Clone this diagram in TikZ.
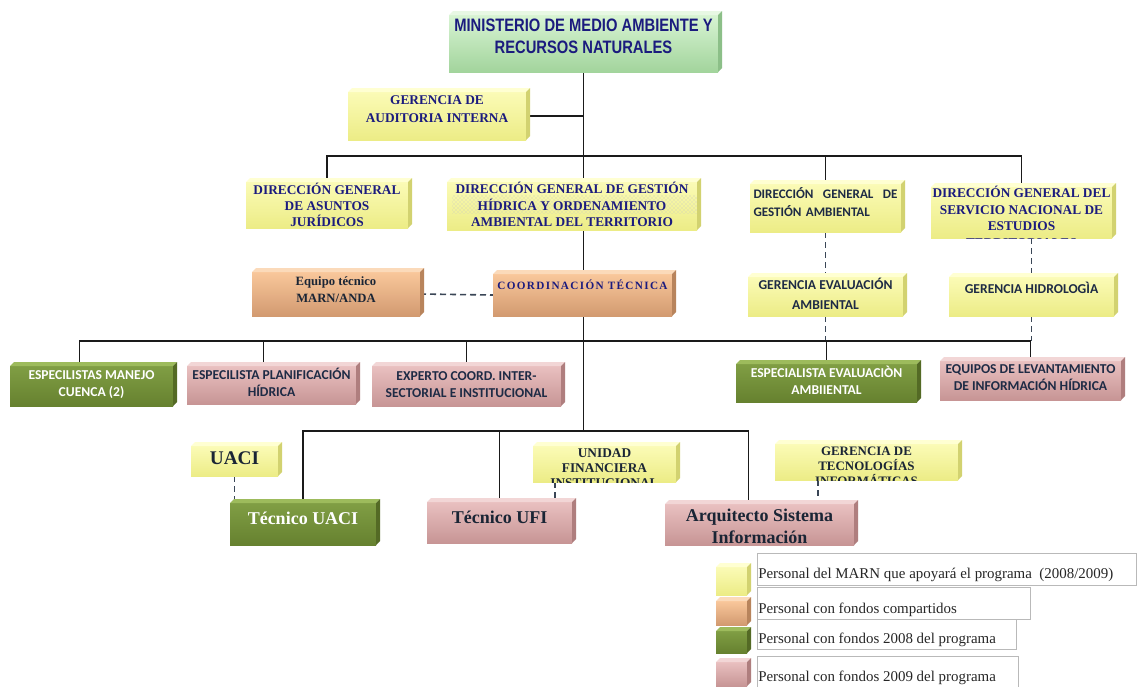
\documentclass[tikz,border=0pt]{standalone}
\usepackage{fontspec}
\setmainfont{Liberation Serif}
\newfontfamily\ministryfont[FakeStretch=0.82]{Liberation Sans}
\newfontfamily\calib{Carlito}
\newfontfamily\spacedserif[LetterSpace=12]{Liberation Serif}
\usetikzlibrary{patterns}
\pgfdeclarelayer{bg}\pgfdeclarelayer{fg}
\pgfsetlayers{bg,main,fg}
\definecolor{navy}{HTML}{1B1B7E}
\definecolor{lbl}{HTML}{1E2B45}
\definecolor{dark}{HTML}{1A2535}
\definecolor{linecol}{HTML}{1A1A1A}
\definecolor{dashcol}{HTML}{3A4656}
\definecolor{Gtop}{HTML}{D8F4D3}\definecolor{Gbot}{HTML}{A2D49C}\definecolor{Gside}{HTML}{8CBF88}\definecolor{Gface}{HTML}{E8F8E4}
\definecolor{Ytop}{HTML}{FBFBB6}\definecolor{Ybot}{HTML}{ECEC86}\definecolor{Yside}{HTML}{D2D270}\definecolor{Yface}{HTML}{FFFFD2}
\definecolor{Otop}{HTML}{F9C79B}\definecolor{Obot}{HTML}{D29A70}\definecolor{Oside}{HTML}{B8845C}\definecolor{Oface}{HTML}{FBDABA}
\definecolor{Dtop}{HTML}{809E44}\definecolor{Dbot}{HTML}{66812F}\definecolor{Dside}{HTML}{546A25}\definecolor{Dface}{HTML}{9DBB5C}
\definecolor{Ptop}{HTML}{E9C0C0}\definecolor{Pbot}{HTML}{C79595}\definecolor{Pside}{HTML}{AF7E7E}\definecolor{Pface}{HTML}{F2D6D6}
\tikzset{
  face/.style={rectangle, inner sep=0pt, outer sep=0pt, draw=none},
  conn/.style={line width=1.3pt, draw=linecol},
  dsh/.style={line width=1.2pt, draw=dashcol, dash pattern=on 4.5pt off 3pt},
  ttl/.style={font=\ministryfont\bfseries\fontsize{13.5}{16.5}\selectfont, text=navy, align=center, inner sep=0pt},
  serifcap/.style={font=\bfseries\fontsize{10}{12.2}\selectfont, text=navy, align=center, inner sep=0pt},
  sanscap/.style={font=\calib\bfseries\fontsize{10.2}{12.9}\selectfont, text=lbl, align=center, inner sep=0pt},
  sanswhite/.style={sanscap, text=white},
  big/.style={font=\bfseries\fontsize{13.5}{16.5}\selectfont, text=dark, align=center, inner sep=0pt},
  legbox/.style={rectangle, draw=gray!55, line width=0.6pt, inner sep=0pt, outer sep=0pt},
  legtext/.style={font=\fontsize{11.2}{13}\selectfont, text=black!85, inner sep=0pt},
}
% name, x0, y0, x1, y1, colour, text dy (px), text style, text
\newcommand\bx[9]{%
  \pgfmathsetmacro\bxcx{(#2+#4-4)/2}%
  \pgfmathsetmacro\bxcy{(#3+4+#5)/2}%
  \pgfmathsetmacro\bxw{(#4-#2-4)*0.75}%
  \pgfmathsetmacro\bxh{(#5-#3-4)*0.75}%
  \node[face, top color=#6top, bottom color=#6bot, minimum width=\bxw pt, minimum height=\bxh pt] (#1) at (\bxcx,\bxcy) {};
  \fill[#6face] (#1.north west) -- ([shift={(4,-4)}]#1.north west) -- ([shift={(4,-4)}]#1.north east) -- (#1.north east) -- cycle;
  \fill[#6side] (#1.north east) -- ([shift={(4,-4)}]#1.north east) -- ([shift={(4,-4)}]#1.south east) -- (#1.south east) -- cycle;
  \begin{pgfonlayer}{fg}
  \begin{scope}
    \clip ([shift={(0,-4)}]#1.north west) rectangle (#1.south east);
    \node[#8] (#1t) at ([yshift={-0.75pt*(#7)}]#1.center) {#9};
  \end{scope}
  \end{pgfonlayer}
}
% name, x0, y0, x1, y1, baseline y, text
\newcommand\lb[7]{%
  \pgfmathsetmacro\bxcx{(#2+#4)/2}%
  \pgfmathsetmacro\bxcy{(#3+#5)/2}%
  \pgfmathsetmacro\bxw{(#4-#2)*0.75}%
  \pgfmathsetmacro\bxh{(#5-#3)*0.75}%
  \node[legbox, minimum width=\bxw pt, minimum height=\bxh pt] (#1) at (\bxcx,\bxcy) {};
  \node[legtext, anchor=base west] (#1t) at ({#2+1},#6) {#7};
}
\begin{document}
\begin{tikzpicture}[x=0.75pt, y=-0.75pt]
\useasboundingbox (0,0) rectangle (1138,686);
\begin{pgfonlayer}{bg}
  \fill[white] (0,0) rectangle (1138,686);
\end{pgfonlayer}

% ---- boxes ----
\bx{min}{449}{11}{722}{72}{G}{-7.5}{ttl}{MINISTERIO DE MEDIO AMBIENTE Y\\RECURSOS NATURALES}
\bx{aud}{348}{88}{530}{140}{Y}{-7}{serifcap, font=\bfseries\fontsize{10}{13.5}\selectfont}{GERENCIA DE\\AUDITORIA INTERNA}
\bx{dga}{246}{178}{412}{228}{Y}{0}{serifcap}{DIRECCIÓN GENERAL\\DE ASUNTOS\\JURÍDICOS}
\bx{dgh}{447}{178}{701}{230}{Y}{-1.5}{serifcap}{DIRECCIÓN GENERAL DE GESTIÓN\\HÍDRICA Y ORDENAMIENTO\\AMBIENTAL DEL TERRITORIO}
\fill[pattern=crosshatch dots, pattern color=gray!45] (452,195) rectangle (697,213);
\bx{dgg}{750}{180}{905}{232}{Y}{-6}{sanscap, font=\calib\bfseries\fontsize{9.8}{13.5}\selectfont, text width=108pt, align=left}{DIRECCIÓN\hfill GENERAL\hfill DE\\GESTIÓN AMBIENTAL}
\bx{dgs}{931}{183}{1116}{238}{Y}{4.5}{serifcap, font=\bfseries\fontsize{10}{12.4}\selectfont}{DIRECCIÓN GENERAL DEL\\SERVICIO NACIONAL DE\\ESTUDIOS\\TERRITORIALES}
\bx{eq}{252}{268}{424}{316}{O}{-4.5}{serifcap, text=dark, font=\bfseries\fontsize{9.5}{13}\selectfont}{Equipo técnico\\MARN/ANDA}
\bx{coord}{493}{270}{676}{316}{O}{-10}{serifcap, font=\spacedserif\bfseries\fontsize{8.4}{10}\selectfont}{COORDINACIÓN TÉCNICA}
\bx{gea}{748}{273}{907}{316}{Y}{-2.5}{sanscap, font=\calib\bfseries\fontsize{10.2}{15}\selectfont}{GERENCIA EVALUACIÓN\\AMBIENTAL}
\bx{gh}{949}{273}{1118}{316}{Y}{-8.5}{sanscap}{GERENCIA HIDROLOGÌA}
\bx{emc}{10}{362}{177}{406}{D}{-1.5}{sanswhite}{ESPECILISTAS MANEJO\\CUENCA (2)}
\bx{epl}{187}{362}{360}{404}{P}{-2.5}{sanscap}{ESPECILISTA PLANIFICACIÓN\\HÍDRICA}
\bx{exp}{372}{362}{565}{406}{P}{-1.5}{sanscap}{EXPERTO COORD. INTER-\\SECTORIAL E INSTITUCIONAL}
\bx{eea}{736}{360}{921}{402}{D}{-2.5}{sanswhite}{ESPECIALISTA EVALUACIÒN\\AMBIIENTAL}
\bx{eqv}{940}{357}{1125}{400}{P}{-3}{sanscap}{EQUIPOS DE LEVANTAMIENTO\\DE INFORMACIÓN HÍDRICA}
\bx{uaci}{191}{442}{282}{476}{Y}{-3}{big, font=\bfseries\fontsize{14.5}{16}\selectfont}{UACI}
\bx{ufin}{533}{442}{680}{482}{Y}{4}{serifcap, text=dark, font=\bfseries\fontsize{10}{11.25}\selectfont}{UNIDAD\\FINANCIERA\\INSTITUCIONAL}
\bx{gti}{775}{440}{962}{480}{Y}{4}{serifcap, text=dark, font=\bfseries\fontsize{9.7}{11.25}\selectfont}{GERENCIA DE\\TECNOLOGÍAS\\INFORMÁTICAS}
\bx{tuaci}{230}{499}{380}{545}{D}{-6}{big, text=white}{Técnico UACI}
\bx{tufi}{427}{498}{576}{543}{P}{-5.5}{big}{Técnico UFI}
\bx{arq}{665}{500}{858}{545}{P}{1.5}{big}{Arquitecto Sistema\\Información}

% ---- legend ----
\bx{sw1}{716}{563}{751}{595}{Y}{0}{}{}
\bx{sw2}{716}{597}{751}{625}{O}{0}{}{}
\bx{sw3}{716}{627}{751}{653}{D}{0}{}{}
\bx{sw4}{716}{658}{751}{686}{P}{0}{}{}
\lb{lg1}{757}{553}{1136}{585}{578}{Personal del MARN que apoyará el programa\ \ (2008/2009)}
\lb{lg2}{757}{587}{1030}{619}{613}{Personal con fondos compartidos}
\lb{lg3}{757}{619}{1016}{649}{643}{Personal con fondos 2008 del programa}
\lb{lg4}{757}{656}{1018}{690}{681}{Personal con fondos 2009 del programa}

% ---- connectors ----
\coordinate (bus1) at (0,156);
\coordinate (bus2) at (0,341);
\coordinate (bus3) at (0,431);
\begin{pgfonlayer}{bg}
  \draw[conn] (min.south) -- (min.south |- dgh.north);
  \draw[conn] (aud.east) -- (aud.east -| min.south);
  \draw[conn] (dga.north) -- (dga.north |- bus1) -- (dgs.north |- bus1) -- (dgs.north);
  \draw[conn] (dgg.north) -- (dgg.north |- bus1);
  \draw[conn] (dgh.south -| min.south) -- (coord.north -| min.south);
  \draw[dsh] (eq.east) -- (coord.west);
  \draw[dsh] (dgg.south) -- (gea.north -| dgg.south);
  \draw[dsh] (gea.south -| dgg.south) -- (dgg.south |- bus2);
  \draw[dsh] (gh.north |- dgs.south) -- (gh.north);
  \draw[dsh] (gh.south) -- (gh.south |- bus2);
  \draw[conn] ([xshift=-9pt]emc.north) -- ([xshift=-9pt]emc.north |- bus2) -- (eqv.north |- bus2) -- (eqv.north);
  \draw[conn] ([xshift=-6pt]epl.north) -- ([xshift=-6pt]epl.north |- bus2);
  \draw[conn] (exp.north) -- (exp.north |- bus2);
  \draw[conn] (eea.north) -- (eea.north |- bus2);
  \draw[conn] (coord.south -| min.south) -- (bus3 -| min.south);
  \draw[conn] (tuaci.north) -- (tuaci.north |- bus3) -- ([xshift=-8.25pt]arq.north |- bus3) -- ([xshift=-8.25pt]arq.north);
  \draw[conn] (tufi.north) -- (tufi.north |- bus3);
  \draw[dsh] (uaci.south) -- (uaci.south |- tuaci.north);
  \draw[dsh] ([xshift=-37pt]ufin.south) -- ([xshift=-37pt]ufin.south |- tufi.north);
  \draw[dsh] ([xshift=-36.4pt]gti.south) -- ([xshift=-36.4pt]gti.south |- arq.north);
\end{pgfonlayer}
\end{tikzpicture}
\end{document}
